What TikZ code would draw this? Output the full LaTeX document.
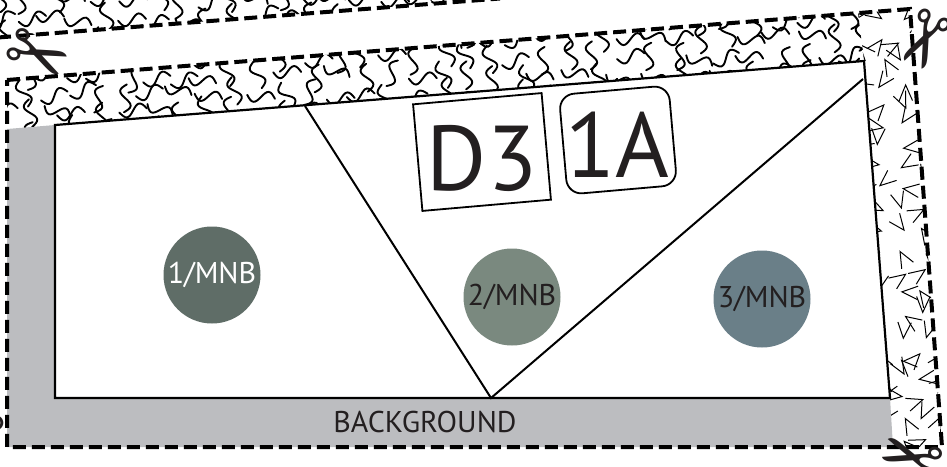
\documentclass[tikz,border=0pt]{standalone}
\usepackage{fontspec}
\setmainfont{PT Sans}
\newfontfamily\symfont{DejaVu Sans}

\definecolor{bggray}{HTML}{BCBDC0}
\definecolor{inkdark}{HTML}{231F20}
\definecolor{mnbone}{HTML}{5F6D67}
\definecolor{mnbtwo}{HTML}{7A897F}
\definecolor{mnbthree}{HTML}{6A7F88}

\tikzset{
  cutline/.style={line width=4pt, dash pattern=on 13pt off 6pt},
  squigline/.style={line width=1.9pt, line cap=round},
  veeline/.style={line width=1pt},
  mnb/.style={circle, minimum size=97pt, inner sep=0pt, font=\fontsize{30}{30}\selectfont},
  labelbox/.style={draw, line width=1.8pt, rotate=5, inner sep=0pt},
  scissor/.style={font=\symfont\fontsize{76}{76}\selectfont, inner sep=0pt, text=inkdark},
  squig/.pic={\draw[squigline] (-14,0) sin (-7,6) cos (0,0) sin (7,-6) cos (14,0);},
  vee/.pic={\draw[veeline] (-16,-6) -- (0,0) -- (-7,-16);}
}

\begin{document}
\begin{tikzpicture}[x=1pt, y=-1pt]
  \useasboundingbox (0,0) rectangle (947,466);

  % corners of the sheet and the panel
  \coordinate (sheetTL) at (7,80);
  \coordinate (sheetTR) at (910,9);
  \coordinate (sheetBR) at (942,447);
  \coordinate (sheetBL) at (7,447);
  \coordinate (panelTL) at (55,125);
  \coordinate (panelTR) at (864,61);
  \coordinate (panelBR) at (890,398);
  \coordinate (panelBL) at (55,398);
  \coordinate (cutA) at (305,106);
  \coordinate (cutB) at (491,398);
  \coordinate (cutC) at (863,79);
  \coordinate (prevL) at (-2,37.5);
  \coordinate (prevR) at (500,-1.5);

  \fill[bggray] (7,129) -- (panelTL) -- (panelBL) -- (panelBR) -- (893,447) -- (sheetBL) -- cycle;

  % squiggles
  \pgfmathsetseed{11}
  \begin{scope}
    \clip (sheetTL) -- (858,13) -- (panelTR) -- (panelTL) -- (7,129) -- cycle;
    \foreach \i in {0,...,34}{
      \foreach \j in {0,...,7}{
        \pgfmathsetmacro\px{\i*26+rand*7}
        \pgfmathsetmacro\py{\j*19+rand*5}
        \pgfmathsetmacro\pr{random(0,3)*90+rand*25}
        \pic[rotate=\pr] at (\px,\py) {squig};
      }
    }
  \end{scope}
  \begin{scope}
    \clip (-2,-2) -- (prevR) -- (prevL) -- cycle;
    \foreach \i in {0,...,20}{
      \foreach \j in {0,...,2}{
        \pgfmathsetmacro\px{\i*26+rand*7}
        \pgfmathsetmacro\py{\j*19+rand*5}
        \pgfmathsetmacro\pr{random(0,3)*90+rand*25}
        \pic[rotate=\pr] at (\px,\py) {squig};
      }
    }
  \end{scope}

  % vees
  \begin{scope}
    \clip (858,13) -- (sheetTR) -- (sheetBR) -- (893,447) -- (panelBR) -- (panelTR) -- cycle;
    \foreach \i in {0,...,4}{
      \foreach \j in {0,...,22}{
        \pgfmathsetmacro\px{860+\i*21+rand*4}
        \pgfmathsetmacro\py{\j*21+rand*4}
        \pgfmathsetmacro\pr{rnd*360}
        \pic[rotate=\pr] at (\px,\py) {vee};
      }
    }
  \end{scope}

  \draw[line width=2.2pt, fill=white] (panelTL) -- (panelTR) -- (panelBR) -- (panelBL) -- cycle;
  \draw[line width=2pt] (cutA) -- (cutB) -- (cutC);

  \node[mnb, fill=mnbone, text=white] (mnb1) at (212,275) {1/MNB};
  \node[mnb, fill=mnbtwo, text=inkdark] (mnb2) at (512,297) {2/MNB};
  \node[mnb, fill=mnbthree, text=inkdark] (mnb3) at (762,299) {3/MNB};

  \node[labelbox, minimum width=129pt, minimum height=107pt] (boxD) at (482,152) {};
  \node[labelbox, rounded corners=15pt, minimum width=110pt, minimum height=100pt] (boxA) at (618,140) {};
  \node[font=\fontsize{92}{92}\selectfont, text=inkdark] (dthree) at (482,158) {D3};
  \node[font=\fontsize{92}{92}\selectfont, text=inkdark] (onea) at (617,145) {1A};

  \node[font=\fontsize{30}{30}\selectfont, text=inkdark] (bglabel) at (425,422) {BACKGROUND};

  \draw[cutline] (sheetTL) -- (sheetTR) -- (sheetBR) -- (sheetBL) -- cycle;
  \draw[cutline] (prevL) -- (prevR);

  \node[scissor, rotate=-25] (cutTL) at (36,59) {✂};
  \node[scissor, rotate=-115] (cutTR) at (920,38) {✂};
  \node[scissor, rotate=162] (cutBR) at (913,452) {✂};
  \node[scissor, rotate=90] (cutL) at (-8,402) {✂};
\end{tikzpicture}
\end{document}
